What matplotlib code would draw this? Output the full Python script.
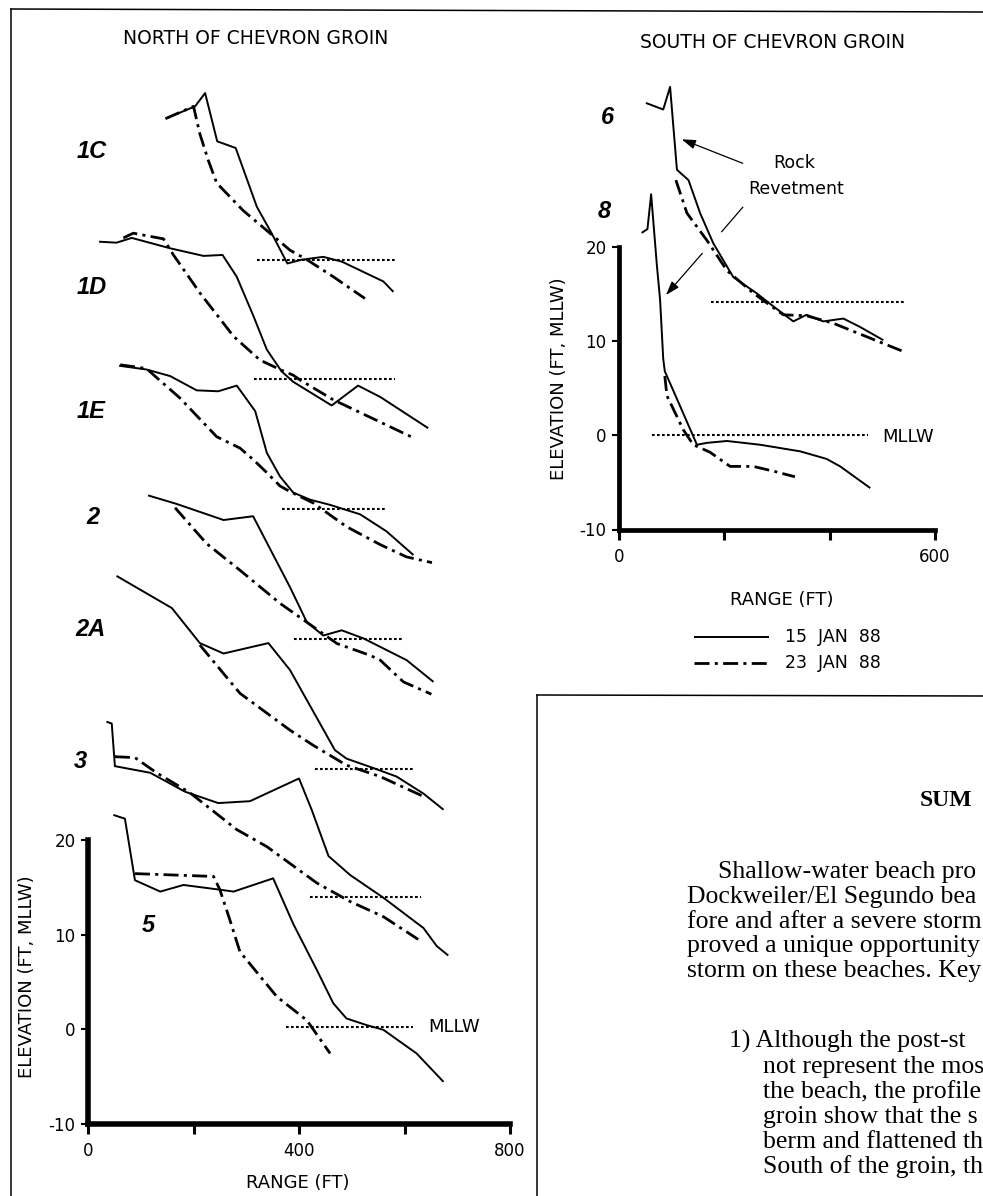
import matplotlib
matplotlib.use("Agg")
import matplotlib.pyplot as plt
from matplotlib.lines import Line2D
from matplotlib.patches import FancyArrowPatch

# ---------------- data (range ft, elevation ft re MLLW) ----------------
# North of Chevron groin (left panel); offsets only stack the profiles
profiles_north = ["1C", "1D", "1E", "2", "2A", "3", "5"]

p1C_x15 = [147, 203, 222, 245, 280, 320, 348, 378, 405, 446, 481, 560, 579]
p1C_z15 = [14.9, 16.2, 17.6, 12.5, 11.8, 5.6, 2.8, -0.4, 0.0, 0.3, -0.2, -2.3, -3.4]
p1C_x23 = [147, 200, 212, 228, 244, 294, 345, 383, 415, 465, 525]
p1C_z23 = [14.9, 16.2, 13.3, 10.5, 8.1, 5.2, 2.8, 1.0, 0.0, -1.8, -4.1]

p1D_x15 = [21, 54, 83, 156, 219, 255, 282, 314, 339, 367, 389, 462, 481, 512, 554, 645]
p1D_z15 = [14.5, 14.4, 14.9, 13.8, 13.0, 13.1, 10.8, 6.6, 3.1, 0.8, -0.3, -2.8, -2.0, -0.7, -1.9, -5.2]
p1D_x23 = [67, 86, 143, 162, 212, 276, 326, 364, 389, 402, 465, 620]
p1D_z23 = [14.9, 15.4, 14.8, 13.1, 9.1, 4.5, 2.0, 1.0, 0.4, -0.1, -2.2, -6.3]

p1E_x15 = [59, 111, 156, 206, 247, 282, 317, 339, 364, 389, 421, 459, 516, 566, 617]
p1E_z15 = [15.1, 14.7, 14.0, 12.5, 12.4, 13.0, 10.3, 5.9, 3.4, 1.7, 0.95, 0.4, -0.6, -2.4, -4.9]
p1E_x23 = [61, 111, 127, 174, 244, 288, 313, 339, 364, 383, 427, 490, 554, 604, 652]
p1E_z23 = [15.2, 14.8, 14.0, 11.7, 7.6, 6.4, 5.2, 3.8, 2.4, 1.8, 0.6, -1.9, -3.8, -5.1, -5.7]

p2_x15 = [114, 168, 257, 313, 383, 415, 446, 481, 522, 604, 655]
p2_z15 = [15.2, 14.3, 12.6, 13.0, 5.5, 1.8, 0.4, 0.95, 0.1, -2.2, -4.5]
p2_x23 = [165, 225, 288, 364, 415, 472, 535, 554, 598, 651]
p2_z23 = [13.9, 10.1, 7.3, 3.8, 1.8, -0.45, -1.7, -2.2, -4.5, -5.8]

p2A_x15 = [54, 159, 212, 257, 342, 383, 468, 490, 541, 585, 636, 674]
p2A_z15 = [20.4, 17.0, 13.3, 12.2, 13.3, 10.45, 2.0, 1.1, 0.1, -0.8, -2.6, -4.3]
p2A_x23 = [212, 288, 383, 427, 490, 554, 636]
p2A_z23 = [13.1, 8.0, 4.1, 2.5, 0.4, -0.8, -2.9]

p3_x15 = [35, 45, 51, 118, 184, 247, 307, 400, 424, 456, 497, 560, 636, 661, 683]
p3_z15 = [18.5, 18.3, 13.8, 13.1, 11.1, 9.9, 10.1, 12.5, 9.2, 4.3, 2.3, -0.1, -3.3, -5.2, -6.2]
p3_x23 = [51, 89, 130, 193, 282, 339, 434, 497, 560, 626]
p3_z23 = [14.8, 14.7, 13.1, 11.0, 7.1, 5.3, 1.45, -0.5, -2.1, -4.5]

p5_x15 = [48, 70, 89, 137, 181, 250, 276, 351, 389, 434, 465, 490, 528, 560, 623, 674]
p5_z15 = [22.4, 22.0, 15.5, 14.3, 15.0, 14.5, 14.3, 15.7, 10.9, 6.0, 2.5, 0.9, 0.2, -0.3, -2.8, -5.8]
p5_x23 = [89, 238, 250, 269, 288, 358, 415, 459]
p5_z23 = [16.2, 15.9, 14.5, 11.3, 7.95, 3.2, 0.7, -2.8]

north_offsets = [81.3, 68.7, 55.0, 41.2, 27.5, 14.0, 0.25]
north_mllw_from = [320, 315, 368, 391, 430, 421, 376]
north_mllw_to = [586, 582, 567, 599, 620, 631, 616]

# South of Chevron groin (right panel)
profiles_south = ["6", "8"]

p6_x15 = [51, 84, 97, 110, 132, 154, 179, 217, 261, 293, 331, 356, 388, 426, 458, 502]
p6_z15 = [21.1, 20.4, 22.8, 14.0, 12.9, 9.4, 6.2, 2.6, 0.9, -0.5, -2.1, -1.4, -2.1, -1.8, -2.7, -4.1]
p6_x23 = [108, 129, 167, 205, 255, 312, 356, 407, 540]
p6_z23 = [12.9, 9.4, 6.5, 3.3, 0.9, -1.4, -1.5, -2.3, -5.3]

p8_x15 = [43, 54, 61, 72, 78, 84, 87, 116, 141, 148, 167, 205, 268, 344, 394, 420, 477]
p8_z15 = [21.5, 21.9, 25.6, 18.0, 14.4, 8.1, 6.8, 3.1, -0.1, -1.0, -0.8, -0.6, -1.0, -1.7, -2.5, -3.3, -5.6]
p8_x23 = [87, 91, 122, 141, 173, 211, 255, 293, 334]
p8_z23 = [6.3, 4.2, 0.6, -1.0, -1.8, -3.3, -3.3, -3.8, -4.4]

south_offsets = [14.2, 0.0]
south_mllw_from = [174, 62]
south_mllw_to = [541, 473]

north_ticks_x = [0, 200, 400, 600, 800]
north_ticklabels_x = ["0", "", "400", "", "800"]
south_ticks_x = [0, 200, 400, 600]
south_ticklabels_x = ["0", "", "", "600"]
elev_ticks = [-10, 0, 10, 20]
elev_ticklabels = ["-10", "0", "10", "20"]
legend_labels = ["15  JAN  88", "23  JAN  88"]

summary_lines_1 = ["Shallow-water beach pro", "Dockweiler/El Segundo bea",
                   "fore and after a severe storm", "proved a unique opportunity",
                   "storm on these beaches. Key"]
summary_lines_2 = ["1) Although the post-st", "not represent the mos",
                   "the beach, the profile cl", "groin show that the s",
                   "berm and flattened th", "South of the groin, th"]

north_series = [
    (p1C_x15, p1C_z15, p1C_x23, p1C_z23),
    (p1D_x15, p1D_z15, p1D_x23, p1D_z23),
    (p1E_x15, p1E_z15, p1E_x23, p1E_z23),
    (p2_x15, p2_z15, p2_x23, p2_z23),
    (p2A_x15, p2A_z15, p2A_x23, p2A_z23),
    (p3_x15, p3_z15, p3_x23, p3_z23),
    (p5_x15, p5_z15, p5_x23, p5_z23),
]
south_series = [
    (p6_x15, p6_z15, p6_x23, p6_z23),
    (p8_x15, p8_z15, p8_x23, p8_z23),
]

# ---------------- figure ----------------
W, H = 983, 1196
plt.rcParams["font.family"] = ["DejaVu Sans"]
fig = plt.figure(figsize=(W / 100, H / 100), dpi=100)
fig.patch.set_facecolor("white")


def rect_from_map(xd0, xp0, xd1, xp1, yd0, yp0, yd1, yp1, xlim, ylim):
    sx = (xp1 - xp0) / (xd1 - xd0)
    sy = (yp1 - yp0) / (yd1 - yd0)
    left = xp0 + (xlim[0] - xd0) * sx
    right = xp0 + (xlim[1] - xd0) * sx
    top = yp0 + (ylim[1] - yd0) * sy
    bottom = yp0 + (ylim[0] - yd0) * sy
    return [left / W, 1 - bottom / H, (right - left) / W, (bottom - top) / H]


def fx(x):
    return x / W


def fy(y):
    return 1 - y / H


SOLID = dict(color="black", lw=1.4, solid_capstyle="butt")
DASHDOT = dict(color="black", lw=2.0, linestyle=(0, (5.4, 1.9, 1.1, 1.9)))
DOTTED = dict(color="black", lw=1.5, linestyle=(0, (1.3, 1.1)))

# ---- left axes
xlimL, ylimL = (-20, 820), (-12, 102)
axL = fig.add_axes(rect_from_map(0, 88, 800, 510, -10, 1124, 20, 840, xlimL, ylimL))
axL.set_xlim(*xlimL)
axL.set_ylim(*ylimL)
for (x15, z15, x23, z23), off, m0, m1 in zip(north_series, north_offsets,
                                             north_mllw_from, north_mllw_to):
    axL.plot(x15, [z + off for z in z15], **SOLID)
    axL.plot(x23, [z + off for z in z23], **DASHDOT)
    axL.plot([m0, m1], [off, off], **DOTTED)

# ---- right axes
xlimR, ylimR = (-20, 640), (-12, 40)
axR = fig.add_axes(rect_from_map(0, 619, 600, 935, -10, 529.5, 20, 247, xlimR, ylimR))
axR.set_xlim(*xlimR)
axR.set_ylim(*ylimR)
for (x15, z15, x23, z23), off, m0, m1 in zip(south_series, south_offsets,
                                             south_mllw_from, south_mllw_to):
    axR.plot(x15, [z + off for z in z15], **SOLID)
    axR.plot(x23, [z + off for z in z23], **DASHDOT)
    axR.plot([m0, m1], [off, off], **DOTTED)

for ax, xt, xtl, xb, spw in [(axL, north_ticks_x, north_ticklabels_x, (0, 800), 4.0),
                             (axR, south_ticks_x, south_ticklabels_x, (0, 600), 3.4)]:
    ax.patch.set_visible(False)
    for s in ["top", "right"]:
        ax.spines[s].set_visible(False)
    ax.spines["left"].set_position(("data", 0))
    ax.spines["bottom"].set_position(("data", -10))
    ax.spines["left"].set_bounds(-10, 20)
    ax.spines["bottom"].set_bounds(*xb)
    ax.spines["left"].set_linewidth(spw)
    ax.spines["bottom"].set_linewidth(spw)
    ax.set_xticks(xt)
    ax.set_xticklabels(xtl)
    ax.set_yticks(elev_ticks)
    ax.set_yticklabels(elev_ticklabels)
    ax.tick_params(axis="x", direction="out", length=7, width=2.2, pad=6, labelsize=12)
    ax.tick_params(axis="y", direction="out", length=5, width=1.5, pad=4, labelsize=12)

# ---- axis texts
fig.text(fx(256), fy(38), "NORTH OF CHEVRON GROIN", ha="center", va="center", fontsize=13.5)
fig.text(fx(773), fy(43), "SOUTH OF CHEVRON GROIN", ha="center", va="center", fontsize=13.5)
fig.text(fx(298), fy(1183), "RANGE (FT)", ha="center", va="center", fontsize=13)
fig.text(fx(782), fy(600), "RANGE (FT)", ha="center", va="center", fontsize=13)
fig.text(fx(27), fy(977), "ELEVATION (FT, MLLW)", ha="center", va="center",
         rotation=90, fontsize=13)
fig.text(fx(559), fy(379), "ELEVATION (FT, MLLW)", ha="center", va="center",
         rotation=90, fontsize=13)
fig.text(fx(428), fy(1027), "MLLW", ha="left", va="center", fontsize=13)
fig.text(fx(882), fy(437), "MLLW", ha="left", va="center", fontsize=13)

# profile labels
label_pos_north = [(92, 152), (92, 287), (91, 412), (93, 518), (90, 630), (80, 762), (148, 925)]
label_pos_south = [(607, 118), (604, 212)]
for name, (px, py) in zip(profiles_north + profiles_south, label_pos_north + label_pos_south):
    fig.text(fx(px), fy(py), name, ha="center", va="center", fontsize=17,
             fontweight="bold", fontstyle="italic", family=["Liberation Sans", "DejaVu Sans"])

# Rock revetment annotation
fig.text(fx(794), fy(163), "Rock", ha="center", va="center", fontsize=12.5)
fig.text(fx(796), fy(189), "Revetment", ha="center", va="center", fontsize=12.5)
arrowprops = dict(arrowstyle="-|>,head_length=0.6,head_width=0.2", color="black", lw=0.9,
                  shrinkA=0, shrinkB=0)
fig.add_artist(FancyArrowPatch((fx(742.7), fy(163.3)), (fx(681.7), fy(139.3)),
                               transform=fig.transFigure, mutation_scale=14, **arrowprops))
fig.add_artist(FancyArrowPatch((fx(702.3), fy(253.3)), (fx(666), fy(295)),
                               transform=fig.transFigure, mutation_scale=14, **arrowprops))
fig.add_artist(Line2D([fx(742.7), fx(721.7)], [fy(207.3), fy(231.7)],
                      transform=fig.transFigure, color="black", lw=0.9))

# legend
styles = [SOLID, DASHDOT]
for i, (lab, st) in enumerate(zip(legend_labels, styles)):
    yy = 637 + 26 * i
    fig.add_artist(Line2D([fx(694), fx(769)], [fy(yy), fy(yy)], transform=fig.transFigure, **st))
    fig.text(fx(785), fy(yy), lab, ha="left", va="center", fontsize=12.5)

# frame lines
frame = dict(transform=fig.transFigure, color="black", lw=1.1)
fig.add_artist(Line2D([fx(11), fx(983)], [fy(9), fy(12)], **frame))
fig.add_artist(Line2D([fx(11), fx(11)], [fy(9), fy(1196)], **frame))
fig.add_artist(Line2D([fx(537), fx(983)], [fy(695), fy(696)], **frame))
fig.add_artist(Line2D([fx(537), fx(537)], [fy(695), fy(1196)], **frame))

# summary text
serif = ["Liberation Serif", "DejaVu Serif"]
fig.text(fx(920), fy(806), "SUM", ha="left", va="baseline", fontsize=17,
         fontweight="bold", family=serif)
for i, line in enumerate(summary_lines_1):
    x0 = 718 if i == 0 else 687
    fig.text(fx(x0), fy(878 + 24.8 * i), line, ha="left", va="baseline",
             fontsize=18.5, family=serif)
for i, line in enumerate(summary_lines_2):
    x0 = 729 if i == 0 else 763
    fig.text(fx(x0), fy(1048 + 25 * i), line, ha="left", va="baseline",
             fontsize=18.5, family=serif)

fig.savefig("out.png", dpi=100)
